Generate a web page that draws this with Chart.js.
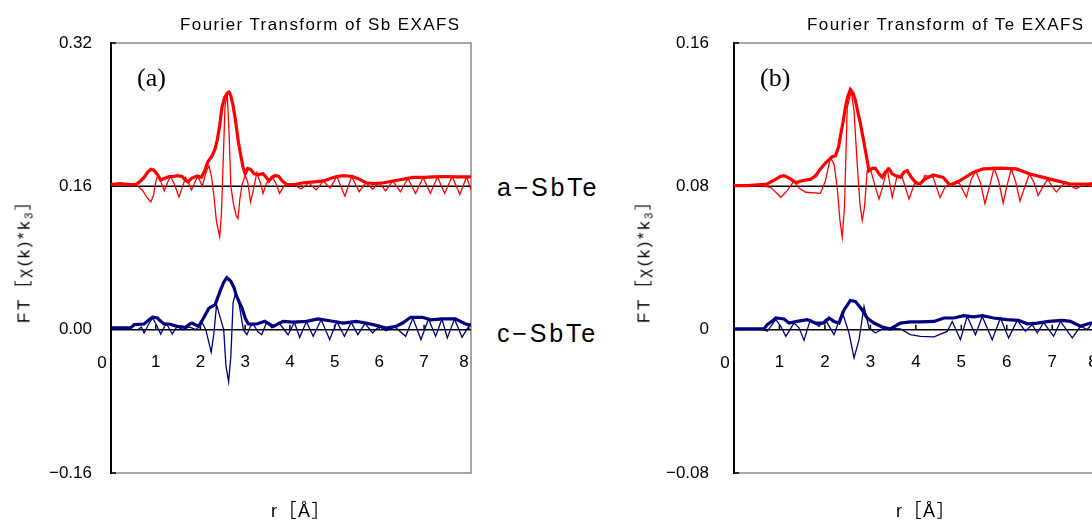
<!DOCTYPE html>
<html>
<head>
<meta charset="utf-8">
<script src="https://cdn.jsdelivr.net/npm/chart.js@4.4.1/dist/chart.umd.min.js"></script>
<style>
  html, body { margin: 0; padding: 0; background: #fff; }
  body { width: 1092px; height: 521px; position: relative; overflow: hidden;
         font-family: "Liberation Sans", Arial, "Noto Sans CJK JP", sans-serif; color: #000; }
  .wrap { position: absolute; top: 0; height: 521px; }
  .txt { position: absolute; white-space: nowrap; line-height: 1; }
  .title { font-size: 17px; letter-spacing: 1.4px; top: 16px; }
  .tag { font-family: "Liberation Serif", "Times New Roman", serif; font-size: 26px; top: 65px; }
  .sample { font-size: 25px; letter-spacing: 2.8px; left: 497px; }
  .xt { font-size: 18px; letter-spacing: 1.5px; top: 502px; }
  .yt { font-size: 17px; letter-spacing: 2.5px; transform: translate(-50%, -50%) rotate(-90deg); top: 257px; }
  .yt sub { font-size: 11px; vertical-align: -3px; }
</style>
</head>
<body>
<div class="wrap" style="left:0;width:490px"><canvas id="chartSb" width="490" height="521"></canvas></div>
<div class="wrap" style="left:600px;width:520px"><canvas id="chartTe" width="520" height="521"></canvas></div>

<div class="txt title" style="left:180px">Fourier Transform of Sb EXAFS</div>
<div class="txt title" style="left:807px">Fourier Transform of Te EXAFS</div>
<div class="txt tag" style="left:137px">(a)</div>
<div class="txt tag" style="left:760px">(b)</div>
<div class="txt sample" style="top:175px">a−SbTe</div>
<div class="txt sample" style="top:321px">c−SbTe</div>
<div class="txt xt" style="left:271px">r［Å］</div>
<div class="txt xt" style="left:896px">r［Å］</div>
<div class="txt yt" style="left:25px">FT［χ(k)*k<sub>3</sub>］</div>
<div class="txt yt" style="left:645px">FT［χ(k)*k<sub>3</sub>］</div>

<script>
// vertical offset used to stack the amorphous curve above the crystalline one
const SB_OFFSET = 0.16;
const TE_OFFSET = 0.08;

const rTicks = [0, 1, 2, 3, 4, 5, 6, 7, 8];
const rTickLabels = ['0', '1', '2', '3', '4', '5', '6', '7', '8'];
const sbYTicks = [-0.16, 0, 0.16, 0.32];
const sbYLabels = ['−0.16', '0.00', '0.16', '0.32'];
const teYTicks = [-0.08, 0, 0.08, 0.16];
const teYLabels = ['−0.08', '0', '0.08', '0.16'];

// [r (Å), value], relative to each curve's own baseline
const sbAmorphMag = [[0,0.002],[0.2,0.003],[0.4,0.002],[0.56,0.002],[0.66,0.006],[0.74,0.010],[0.82,0.016],[0.89,0.019],[0.96,0.018],[1.04,0.013],[1.11,0.007],[1.2,0.009],[1.3,0.011],[1.4,0.011],[1.48,0.012],[1.59,0.011],[1.66,0.007],[1.72,0.005],[1.8,0.009],[1.93,0.0115],[2.02,0.010],[2.1,0.018],[2.16,0.027],[2.26,0.034],[2.33,0.042],[2.38,0.053],[2.43,0.068],[2.48,0.088],[2.54,0.099],[2.6,0.104],[2.64,0.105],[2.68,0.101],[2.73,0.090],[2.78,0.075],[2.85,0.049],[2.9,0.035],[2.95,0.022],[3.0,0.014],[3.06,0.020],[3.12,0.019],[3.2,0.014],[3.3,0.013],[3.4,0.014],[3.47,0.010],[3.53,0.006],[3.6,0.010],[3.67,0.012],[3.75,0.011],[3.83,0.006],[3.93,0.002],[4.1,0.002],[4.3,0.004],[4.55,0.005],[4.75,0.006],[4.92,0.009],[5.05,0.011],[5.2,0.012],[5.4,0.011],[5.55,0.008],[5.7,0.004],[5.9,0.003],[6.1,0.004],[6.3,0.006],[6.55,0.008],[6.75,0.010],[7.0,0.010],[7.2,0.0105],[7.45,0.011],[7.7,0.0105],[8.05,0.0105]];
const sbAmorphRe = [[0.6,0],[0.7,-0.004],[0.8,-0.012],[0.89,-0.0175],[0.95,-0.010],[1.0,0.005],[1.05,0.013],[1.11,0.006],[1.19,-0.005],[1.26,0.004],[1.33,0.011],[1.42,0.002],[1.52,-0.012],[1.6,0],[1.67,0.010],[1.74,0.003],[1.8,-0.004],[1.87,0.004],[1.94,0.011],[2.0,0.005],[2.04,0],[2.12,0.015],[2.19,0.023],[2.25,0.010],[2.3,-0.010],[2.36,-0.040],[2.43,-0.0565],[2.47,-0.030],[2.51,0.030],[2.55,0.090],[2.6,0.102],[2.64,0.060],[2.68,0],[2.74,-0.020],[2.8,-0.033],[2.84,-0.036],[2.88,-0.015],[2.93,0.002],[3.0,0.012],[3.06,0.004],[3.12,-0.0175],[3.18,-0.005],[3.26,0.015],[3.34,0.004],[3.4,-0.008],[3.48,0.004],[3.6,0.011],[3.68,0.004],[3.77,-0.008],[3.86,0],[3.95,0.002],[4.08,0.002],[4.25,-0.003],[4.42,0.004],[4.59,-0.004],[4.75,0.006],[4.9,-0.002],[5.05,0.011],[5.23,-0.011],[5.38,0.011],[5.55,-0.006],[5.7,0.004],[5.85,-0.003],[6.0,0.004],[6.14,-0.005],[6.3,0.006],[6.47,-0.006],[6.64,0.009],[6.81,-0.008],[6.98,0.010],[7.14,-0.008],[7.3,0.0105],[7.46,-0.008],[7.63,0.011],[7.8,-0.009],[7.95,0.0105],[8.05,-0.004]];
const sbCrystMag = [[0,0.002],[0.3,0.002],[0.44,0.002],[0.52,0.0056],[0.74,0.0063],[0.85,0.011],[0.93,0.014],[1.04,0.013],[1.12,0.009],[1.19,0.0063],[1.3,0.0063],[1.48,0.0037],[1.67,0.0026],[1.75,0.006],[1.81,0.0074],[1.96,0.0037],[2.07,0.013],[2.19,0.024],[2.33,0.028],[2.44,0.043],[2.52,0.053],[2.59,0.058],[2.68,0.054],[2.75,0.047],[2.81,0.037],[2.93,0.024],[3.0,0.013],[3.07,0.0063],[3.26,0.0063],[3.44,0.0093],[3.63,0.0037],[3.85,0.0093],[4.07,0.0085],[4.37,0.0093],[4.63,0.012],[4.89,0.010],[5.19,0.0074],[5.48,0.0093],[5.7,0.0074],[5.93,0.0048],[6.15,0.0019],[6.37,0.0037],[6.52,0.0074],[6.7,0.0138],[6.96,0.0138],[7.15,0.011],[7.41,0.012],[7.7,0.012],[7.93,0.0063],[8.05,0.005]];
const sbCrystRe = [[0.6,0],[0.68,0.003],[0.74,-0.0037],[0.84,0.006],[0.93,0.013],[1.02,0.005],[1.11,-0.0048],[1.2,0.004],[1.25,0.006],[1.37,-0.0048],[1.48,0.0037],[1.6,0],[1.75,0.003],[1.9,0],[2.04,0.0074],[2.12,0],[2.24,-0.025],[2.3,-0.005],[2.36,0.028],[2.45,0.012],[2.52,0],[2.57,-0.040],[2.63,-0.058],[2.68,-0.030],[2.73,0.030],[2.78,0.040],[2.86,0.030],[2.96,0],[3.04,-0.0056],[3.12,0.004],[3.19,0.0056],[3.28,-0.002],[3.37,-0.0056],[3.48,0.008],[3.6,0.002],[3.75,0.008],[3.96,-0.0056],[4.1,0.008],[4.22,-0.0086],[4.37,0.009],[4.52,-0.0074],[4.7,0.011],[4.89,-0.011],[5.05,0.009],[5.22,-0.0074],[5.37,0.008],[5.52,-0.0056],[5.68,0.007],[5.85,-0.0037],[6.0,0.004],[6.15,-0.0011],[6.35,0.003],[6.59,-0.0074],[6.75,0.013],[6.93,-0.011],[7.1,0.012],[7.26,-0.0074],[7.4,0.012],[7.52,-0.0093],[7.68,0.012],[7.85,-0.0086],[8.0,0.004]];

const teAmorphMag = [[0,0.0004],[0.3,0.0004],[0.59,0.001],[0.73,0.0013],[0.85,0.003],[0.92,0.004],[1.03,0.0056],[1.1,0.006],[1.18,0.005],[1.25,0.004],[1.36,0.002],[1.47,0.003],[1.69,0.004],[1.8,0.006],[1.87,0.0087],[2.01,0.013],[2.16,0.0165],[2.23,0.017],[2.3,0.022],[2.34,0.028],[2.4,0.036],[2.45,0.044],[2.5,0.050],[2.56,0.054],[2.62,0.052],[2.67,0.048],[2.72,0.042],[2.78,0.035],[2.84,0.027],[2.89,0.020],[2.97,0.0087],[3.04,0.010],[3.11,0.010],[3.19,0.007],[3.26,0.005],[3.33,0.008],[3.41,0.0097],[3.48,0.007],[3.55,0.006],[3.66,0.005],[3.74,0.008],[3.81,0.0087],[3.9,0.005],[4.0,0.002],[4.09,0.0013],[4.2,0.004],[4.38,0.0063],[4.6,0.005],[4.75,0.0007],[4.97,0.0032],[5.26,0.0078],[5.48,0.0097],[5.85,0.0102],[6.21,0.0097],[6.51,0.0069],[6.8,0.005],[7.09,0.0032],[7.39,0.0013],[7.83,0.0013],[8.05,0.003]];
const teAmorphRe = [[0.66,0],[0.81,-0.0006],[1.03,-0.0061],[1.17,-0.0024],[1.32,0.003],[1.43,-0.001],[1.58,-0.0033],[1.9,-0.0039],[2.01,0.003],[2.12,0.016],[2.2,0.0125],[2.27,-0.0006],[2.33,-0.019],[2.38,-0.0284],[2.43,-0.0117],[2.49,0.044],[2.58,0.053],[2.64,0.042],[2.71,0.0125],[2.77,-0.0098],[2.82,-0.019],[2.87,-0.0117],[2.93,0.0087],[3.0,0.0097],[3.11,-0.0006],[3.19,-0.0071],[3.26,-0.001],[3.37,0.0097],[3.48,-0.0061],[3.59,0.006],[3.7,0.005],[3.85,-0.0071],[3.99,0.003],[4.1,0.001],[4.2,0.006],[4.38,0.005],[4.53,-0.0063],[4.65,0],[4.8,0.001],[4.95,0.002],[5.11,-0.006],[5.22,0.004],[5.32,0.0085],[5.42,0.002],[5.52,-0.0097],[5.62,0],[5.72,0.0102],[5.82,0.003],[5.92,-0.0093],[6.0,0],[6.1,0.0098],[6.2,0.002],[6.29,-0.0082],[6.4,0],[6.5,0.0069],[6.6,0.002],[6.69,-0.005],[6.8,0],[6.9,0.004],[7.0,0],[7.09,-0.0032],[7.2,0],[7.3,0.0022],[7.42,0],[7.53,-0.0013],[7.7,0.0013],[7.85,0],[8.05,0.002]];
const teCrystMag = [[0,0.0004],[0.4,0.0004],[0.66,0.0004],[0.73,0.0028],[0.85,0.005],[0.92,0.0065],[1.1,0.006],[1.21,0.0037],[1.39,0.0046],[1.61,0.0056],[1.79,0.0037],[1.98,0.0037],[2.09,0.0065],[2.2,0.0046],[2.31,0.0037],[2.42,0.011],[2.56,0.0163],[2.67,0.0158],[2.82,0.011],[2.93,0.0065],[3.08,0.0037],[3.26,0.0015],[3.44,0.0004],[3.66,0.0037],[3.88,0.0043],[4.1,0.0043],[4.4,0.0046],[4.62,0.0065],[4.84,0.0065],[5.05,0.0078],[5.27,0.0071],[5.46,0.0078],[5.71,0.0065],[6.0,0.0056],[6.26,0.0052],[6.45,0.0033],[6.67,0.0037],[6.92,0.0046],[7.22,0.0052],[7.4,0.0046],[7.62,0.0019],[7.84,0.0037],[8.05,0.003]];
const teCrystRe = [[0.66,0],[0.73,-0.0009],[0.92,0.0056],[1.03,0.0019],[1.14,-0.0037],[1.32,0.0037],[1.43,0.001],[1.54,-0.006],[1.68,0.0056],[1.87,0.0019],[2.01,0.0056],[2.2,-0.0028],[2.38,0.010],[2.53,-0.0019],[2.64,-0.0158],[2.75,-0.0056],[2.86,0.013],[2.97,0.0009],[3.11,-0.0019],[3.3,0.0009],[3.66,0.0004],[3.88,-0.0028],[4.1,-0.0037],[4.4,-0.004],[4.69,-0.001],[4.8,0.0046],[4.98,-0.0056],[5.13,0.0074],[5.31,-0.0028],[5.46,0.0074],[5.68,-0.0056],[5.86,0.0065],[6.04,-0.0046],[6.23,0.0052],[6.41,-0.0009],[6.56,0.0028],[6.67,-0.0019],[6.81,0.004],[7.03,-0.0037],[7.18,0.0046],[7.44,-0.0046],[7.62,0.0019],[7.77,0],[7.88,0.0037],[8.05,0.003]];

const RED = '#ff0000';
const NAVY = '#000080';

function series(pairs, offset, color, width) {
  return {
    data: pairs.map(([r, v]) => ({ x: r, y: v + offset })),
    showLine: true,
    borderColor: color,
    borderWidth: width,
    pointRadius: 0,
    tension: 0,
    fill: false
  };
}

// plot frame, baselines and the small inside tick marks (Excel style)
const framePlugin = {
  id: 'frame',
  beforeDatasetsDraw(chart, args, opts) {
    const { ctx, chartArea: a, scales: { x, y } } = chart;
    const y0 = y.getPixelForValue(0);
    ctx.save();
    ctx.strokeStyle = '#8a8a8a';
    ctx.lineWidth = 1.5;
    ctx.beginPath();
    ctx.moveTo(a.left, a.top); ctx.lineTo(a.right, a.top);
    ctx.lineTo(a.right, a.bottom); ctx.lineTo(a.left, a.bottom);
    ctx.stroke();

    ctx.strokeStyle = '#000';
    ctx.lineWidth = 1.5;
    ctx.beginPath();
    [0, opts.offset].forEach(v => {
      const py = y.getPixelForValue(v);
      ctx.moveTo(a.left, py); ctx.lineTo(a.right, py);
    });
    x.ticks.forEach(t => {
      if (t.value === 0) return;
      const px = x.getPixelForValue(t.value);
      ctx.moveTo(px, y0); ctx.lineTo(px, y0 - 5);
    });
    y.ticks.forEach(t => {
      const py = y.getPixelForValue(t.value);
      ctx.moveTo(a.left, py); ctx.lineTo(a.left + 5, py);
    });
    ctx.stroke();

    ctx.lineWidth = 2;
    ctx.beginPath();
    ctx.moveTo(a.left, a.top - 1); ctx.lineTo(a.left, a.bottom + 1);
    ctx.stroke();

    // the "0" of the r axis sits left of the y axis line
    ctx.fillStyle = '#000';
    ctx.font = '17px "Liberation Sans", Arial, sans-serif';
    ctx.textAlign = 'center';
    ctx.textBaseline = 'middle';
    ctx.fillText(rTickLabels[0], x.getPixelForValue(0) - 9, y0 + 34);
    ctx.restore();
  }
};

function makePanel(id, p) {
  return new Chart(document.getElementById(id), {
    type: 'scatter',
    data: {
      datasets: [
        series(p.amorphMag, p.offset, RED, 3.2),
        series(p.amorphRe, p.offset, RED, 1.3),
        series(p.crystMag, 0, NAVY, 3.2),
        series(p.crystRe, 0, NAVY, 1.3)
      ]
    },
    options: {
      responsive: false,
      animation: false,
      events: [],
      layout: { padding: { top: 43, bottom: 48, left: 0, right: p.padRight } },
      plugins: {
        legend: { display: false },
        tooltip: { enabled: false },
        frame: { offset: p.offset }
      },
      scales: {
        x: {
          type: 'linear', min: 0, max: 8.05, position: { y: 0 },
          grid: { display: false, drawTicks: false }, border: { display: false },
          afterBuildTicks: s => { s.ticks = rTicks.map(v => ({ value: v })); },
          afterFit: s => { s.height = 0; s.paddingLeft = 0; s.paddingRight = 0; },
          ticks: {
            autoSkip: false, maxRotation: 0, align: 'inner', padding: 22,
            color: '#000', font: { size: 17 },
            callback: (v, i) => (i === 0 ? '' : rTickLabels[i])
          }
        },
        y: {
          type: 'linear', min: p.yTicks[0], max: p.yTicks[p.yTicks.length - 1], position: 'left',
          grid: { display: false, drawTicks: false }, border: { display: false },
          afterBuildTicks: s => { s.ticks = p.yTicks.map(v => ({ value: v })); },
          afterFit: s => { s.width = p.axisLeft; s.paddingTop = 0; s.paddingBottom = 0; },
          ticks: {
            padding: p.labelPad, color: '#000', font: { size: 17 },
            callback: (v, i) => p.yLabels[i]
          }
        }
      }
    },
    plugins: [framePlugin]
  });
}

Chart.defaults.font.family = '"Liberation Sans", Arial, sans-serif';

makePanel('chartSb', {
  offset: SB_OFFSET, yTicks: sbYTicks, yLabels: sbYLabels,
  amorphMag: sbAmorphMag, amorphRe: sbAmorphRe, crystMag: sbCrystMag, crystRe: sbCrystRe,
  axisLeft: 111, padRight: 19, labelPad: 19
});
makePanel('chartTe', {
  offset: TE_OFFSET, yTicks: teYTicks, yLabels: teYLabels,
  amorphMag: teAmorphMag, amorphRe: teAmorphRe, crystMag: teCrystMag, crystRe: teCrystRe,
  axisLeft: 134, padRight: 20, labelPad: 25
});
</script>
</body>
</html>
